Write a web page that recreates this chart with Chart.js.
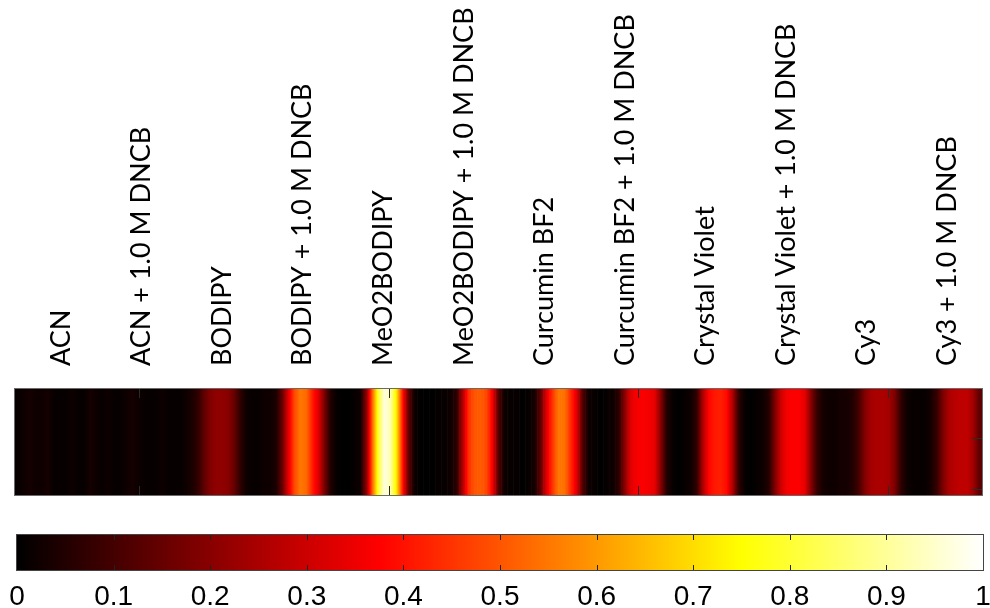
<!DOCTYPE html>
<html>
<head>
<meta charset="utf-8">
<script src="https://cdn.jsdelivr.net/npm/chart.js@4.4.1/dist/chart.umd.min.js"></script>
<style>
  html, body { margin: 0; padding: 0; background: #fff; }
  #wrap { position: relative; width: 990px; height: 608px; }
  #stripChart { position: absolute; left: 0; top: 0; }
  #scaleChart { position: absolute; left: 0; top: 520px; }
</style>
</head>
<body>
<div id="wrap">
  <canvas id="stripChart" width="990" height="500"></canvas>
  <canvas id="scaleChart" width="990" height="88"></canvas>
</div>
<script>
const sampleNames = [
    'ACN', 'ACN + 1.0 M DNCB', 'BODIPY', 'BODIPY + 1.0 M DNCB',
    'MeO2BODIPY', 'MeO2BODIPY + 1.0 M DNCB', 'Curcumin BF2', 'Curcumin BF2 + 1.0 M DNCB',
    'Crystal Violet', 'Crystal Violet + 1.0 M DNCB', 'Cy3', 'Cy3 + 1.0 M DNCB'
];

// normalised intensity profile across the strip, left to right
const intensity = [
    0.01, 0.02, 0.03, 0.02, 0.02, 0.03, 0.01, 0.01, 0.01, 0.02,
    0.01, 0.01, 0.03, 0.02, 0.01, 0.02, 0.01, 0.01, 0.02, 0.03,
    0.02, 0.01, 0.01, 0.01, 0.02, 0.01, 0.01, 0.01, 0.02, 0.04,
    0.07, 0.14, 0.19, 0.21, 0.21, 0.20, 0.15, 0.07, 0.02, 0.01,
    0.01, 0.02, 0.02, 0.04, 0.15, 0.33, 0.48, 0.55, 0.53, 0.42,
    0.33, 0.18, 0.05, 0.01, 0.00, 0.00, 0.01, 0.02, 0.20, 0.52,
    0.80, 0.97, 0.92, 0.72, 0.42, 0.15, 0.02, 0.00, 0.00, 0.00,
    0.01, 0.01, 0.02, 0.06, 0.25, 0.44, 0.50, 0.51, 0.48, 0.36,
    0.12, 0.02, 0.01, 0.01, 0.00, 0.01, 0.03, 0.14, 0.33, 0.45,
    0.55, 0.54, 0.44, 0.33, 0.12, 0.02, 0.01, 0.00, 0.01, 0.02,
    0.06, 0.20, 0.33, 0.36, 0.37, 0.36, 0.34, 0.20, 0.05, 0.01,
    0.00, 0.01, 0.02, 0.07, 0.25, 0.38, 0.41, 0.42, 0.39, 0.25,
    0.07, 0.01, 0.00, 0.01, 0.02, 0.05, 0.18, 0.30, 0.36, 0.37,
    0.37, 0.34, 0.20, 0.08, 0.03, 0.02, 0.02, 0.03, 0.03, 0.05,
    0.10, 0.19, 0.24, 0.25, 0.25, 0.24, 0.18, 0.07, 0.02, 0.01,
    0.01, 0.01, 0.03, 0.08, 0.18, 0.25, 0.27, 0.28, 0.28, 0.24, 0.14
];

// axis tick positions (profile index units / strip height fraction)
const columnTicks = [20.1, 61.7, 103.3, 144.9];
const rowTicks = [0.54, 0.06];
const scaleTicks = [0.1, 0.2, 0.3, 0.4, 0.5, 0.6, 0.7, 0.8, 0.9];

// MATLAB style "hot" colormap
function hot(v) {
    v = Math.min(1, Math.max(0, v));
    const r = Math.min(1, v / 0.375);
    const g = Math.min(1, Math.max(0, (v - 0.375) / 0.375));
    const b = Math.min(1, Math.max(0, (v - 0.75) / 0.25));
    return `rgb(${Math.round(r * 255)},${Math.round(g * 255)},${Math.round(b * 255)})`;
}

const lerp = (a, b, t) => a + (b - a) * t;

// shade each bar with a horizontal gradient so neighbouring samples blend
const smoothBars = {
    id: 'smoothBars',
    beforeDatasetsDraw(chart) {
        const ctx = chart.ctx;
        const n = intensity.length;
        chart.getDatasetMeta(0).data.forEach((bar, i) => {
            const { x, width } = bar.getProps(['x', 'width'], true);
            const prev = intensity[Math.max(i - 1, 0)];
            const cur = intensity[i];
            const next = intensity[Math.min(i + 1, n - 1)];
            const g = ctx.createLinearGradient(x - width / 2, 0, x + width / 2, 0);
            for (let k = 0; k <= 10; k++) {
                const t = k / 10;
                const v = t < 0.5 ? lerp((prev + cur) / 2, cur, t * 2) : lerp(cur, (cur + next) / 2, (t - 0.5) * 2);
                g.addColorStop(t, hot(v));
            }
            bar.options.backgroundColor = g;
        });
    }
};

const stripFrame = {
    id: 'stripFrame',
    afterDatasetsDraw(chart) {
        const { ctx, chartArea: a } = chart;
        const xp = chart.scales.xp;
        const y = chart.scales.y;
        ctx.save();
        ctx.strokeStyle = '#2a2a2a';
        ctx.lineWidth = 1;
        ctx.beginPath();
        columnTicks.forEach(v => {
            const px = Math.round(xp.getPixelForValue(v)) + 0.5;
            ctx.moveTo(px, a.top); ctx.lineTo(px, a.top + 9);
            ctx.moveTo(px, a.bottom); ctx.lineTo(px, a.bottom - 9);
        });
        rowTicks.forEach(v => {
            const py = Math.round(y.getPixelForValue(v)) + 0.5;
            ctx.moveTo(a.right, py); ctx.lineTo(a.right - 10, py);
        });
        ctx.stroke();
        ctx.strokeStyle = '#6a6a6a';
        ctx.strokeRect(a.left - 0.5, a.top - 0.5, a.right - a.left + 1, a.bottom - a.top + 1);
        ctx.restore();
    }
};

new Chart(document.getElementById('stripChart'), {
    type: 'bar',
    data: {
        labels: intensity.map((_, i) => i),
        datasets: [{
            data: intensity.map(() => [0, 1]),
            xAxisID: 'xp',
            yAxisID: 'y',
            backgroundColor: c => hot(intensity[c.dataIndex]),
            borderWidth: 0,
            barPercentage: 1,
            categoryPercentage: 1
        }]
    },
    options: {
        responsive: false,
        animation: false,
        devicePixelRatio: 1,
        layout: { padding: { left: 15, right: 8, top: 0, bottom: 5 } },
        plugins: { legend: { display: false }, tooltip: { enabled: false } },
        scales: {
            x: {
                type: 'category',
                labels: sampleNames,
                position: 'top',
                grid: { display: false, drawTicks: false },
                border: { display: false },
                ticks: {
                    autoSkip: false,
                    minRotation: 90,
                    maxRotation: 90,
                    padding: 23,
                    labelOffset: 38,
                    color: '#000',
                    font: { family: 'Lato', size: 27 }
                },
                afterFit: s => { s.height = 389; s.paddingLeft = 0; s.paddingRight = 0; }
            },
            xp: { type: 'category', display: false, offset: true },
            y: { min: 0, max: 1, display: false }
        }
    },
    plugins: [smoothBars, stripFrame]
});

const scaleFrame = {
    id: 'scaleFrame',
    afterDatasetsDraw(chart) {
        const { ctx, chartArea: a } = chart;
        const x = chart.scales.x;
        ctx.save();
        ctx.strokeStyle = '#222';
        ctx.lineWidth = 1;
        ctx.beginPath();
        scaleTicks.forEach(v => {
            const px = Math.round(x.getPixelForValue(v)) + 0.5;
            ctx.moveTo(px, a.top); ctx.lineTo(px, a.top + 5);
            ctx.moveTo(px, a.bottom); ctx.lineTo(px, a.bottom - 5);
        });
        ctx.stroke();
        ctx.strokeStyle = '#444';
        ctx.strokeRect(a.left - 0.5, a.top - 0.5, a.right - a.left + 1, a.bottom - a.top + 1);
        ctx.restore();
    }
};

new Chart(document.getElementById('scaleChart'), {
    type: 'bar',
    data: {
        labels: [''],
        datasets: [{
            data: [[0, 1]],
            backgroundColor: c => {
                const chart = c.chart;
                if (!chart.chartArea) return '#000';
                const x = chart.scales.x;
                const g = chart.ctx.createLinearGradient(x.getPixelForValue(0), 0, x.getPixelForValue(1), 0);
                [0, 0.375, 0.75, 1].forEach(v => g.addColorStop(v, hot(v)));
                return g;
            },
            borderWidth: 0,
            barPercentage: 1,
            categoryPercentage: 1
        }]
    },
    options: {
        indexAxis: 'y',
        responsive: false,
        animation: false,
        devicePixelRatio: 1,
        layout: { padding: { left: 17, right: 7, top: 15, bottom: 0 } },
        plugins: { legend: { display: false }, tooltip: { enabled: false } },
        scales: {
            x: {
                type: 'linear',
                min: 0,
                max: 1,
                grid: { display: false, drawTicks: false },
                border: { display: false },
                ticks: {
                    stepSize: 0.1,
                    padding: 10,
                    color: '#000',
                    font: { family: 'Liberation Sans', size: 28 },
                    callback: v => String(+v.toFixed(1))
                },
                afterFit: s => { s.height = 38; s.paddingLeft = 0; s.paddingRight = 0; }
            },
            y: { display: false }
        }
    },
    plugins: [scaleFrame]
});
</script>
</body>
</html>
